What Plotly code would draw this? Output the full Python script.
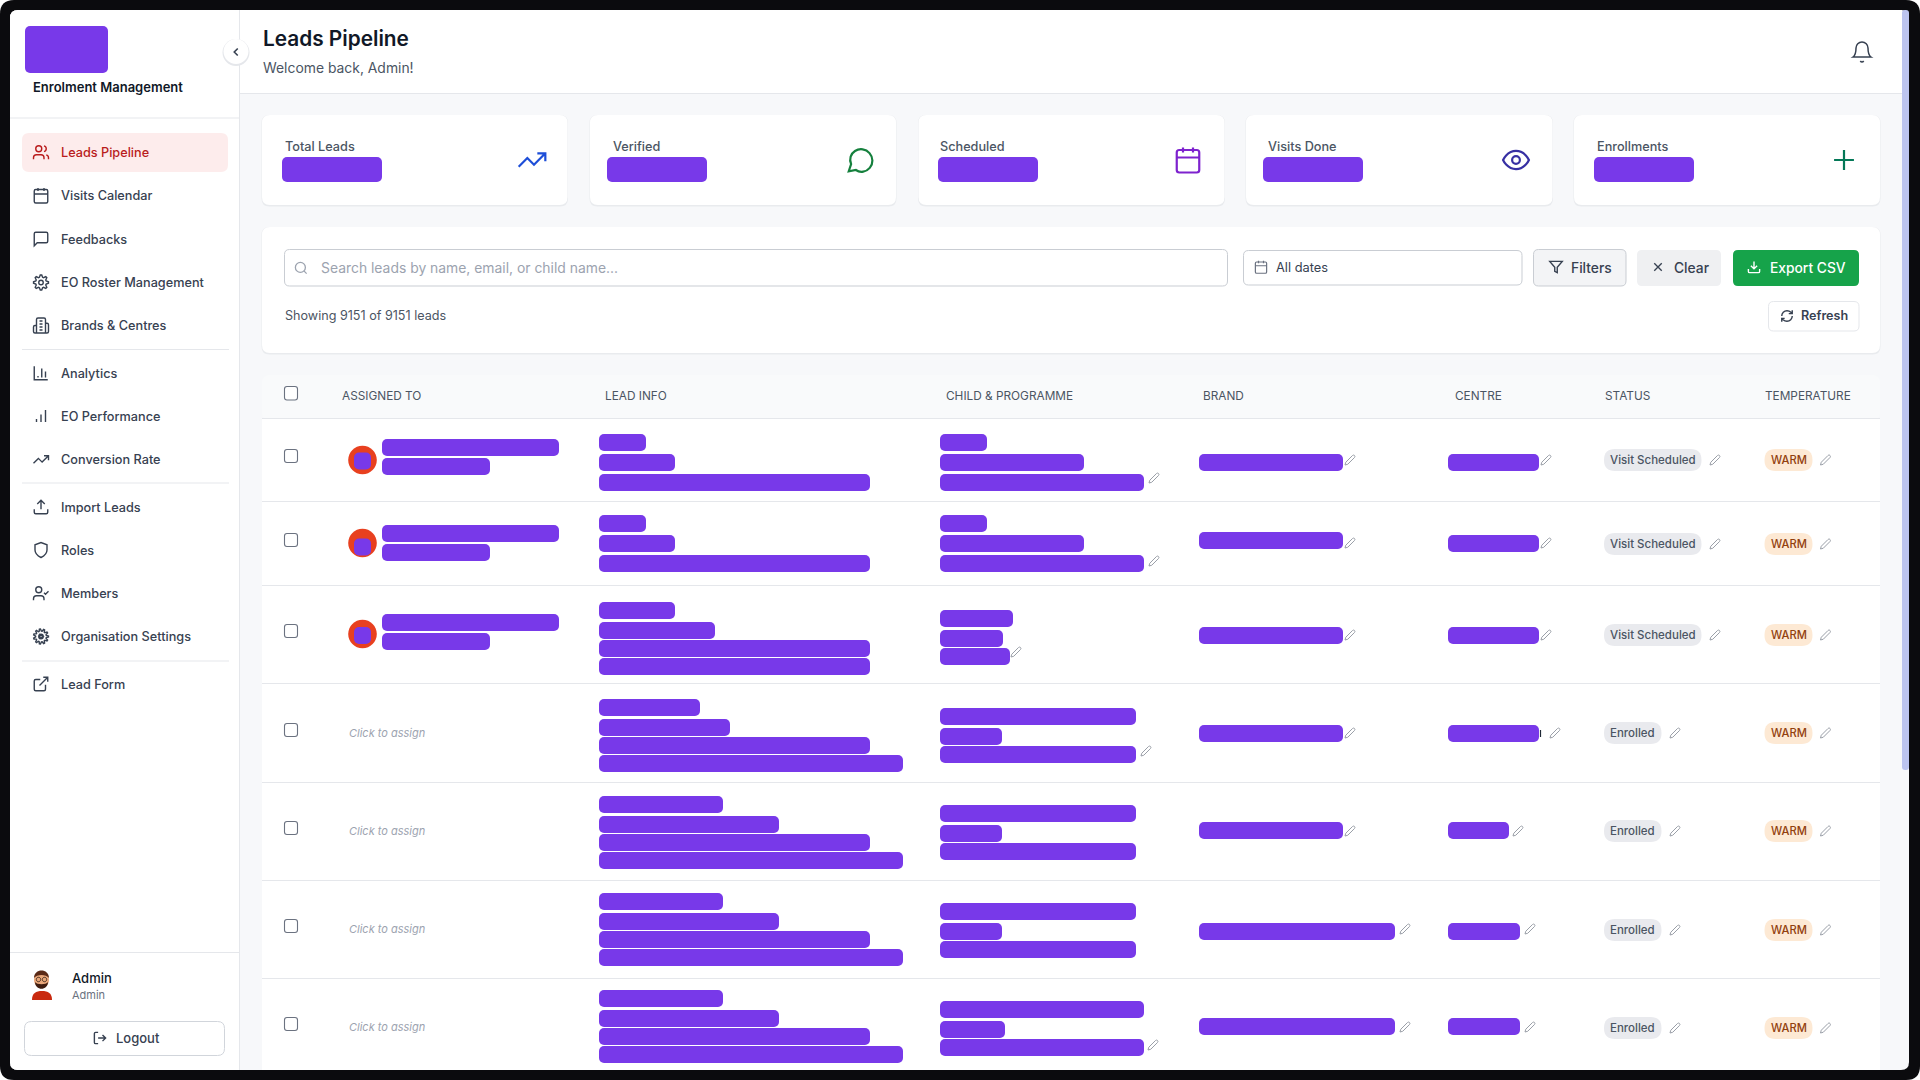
import math
import re
import plotly.graph_objects as go

# ---- text and values ----
app_name = "Enrolment Management"
page_title = "Leads Pipeline"
page_subtitle = "Welcome back, Admin!"

nav_labels = ["Leads Pipeline", "Visits Calendar", "Feedbacks", "EO Roster Management", "Brands & Centres",
              "Analytics", "EO Performance", "Conversion Rate", "Import Leads", "Roles", "Members",
              "Organisation Settings", "Lead Form"]
stat_labels = ["Total Leads", "Verified", "Scheduled", "Visits Done", "Enrollments"]
column_labels = ["ASSIGNED TO", "LEAD INFO", "CHILD & PROGRAMME", "BRAND", "CENTRE", "STATUS", "TEMPERATURE"]
row_status = ["Visit Scheduled", "Visit Scheduled", "Visit Scheduled", "Enrolled", "Enrolled", "Enrolled", "Enrolled"]
row_temperature = ["WARM"] * 7
search_placeholder = "Search leads by name, email, or child name..."
showing_text = "Showing 9151 of 9151 leads"
unassigned_text = "Click to assign"

# lengths of the redaction blocks, per table row
stat_block_len = [100, 100, 100, 100, 100]
assigned_len = [[177, 108], [177, 108], [177, 108]]
lead_len = [[47, 76, 271], [47, 76, 271], [76, 116, 271, 271], [101, 131, 271, 304],
            [124, 180, 271, 304], [124, 180, 271, 304], [124, 180, 271, 304]]
child_len = [[47, 144, 204], [47, 144, 204], [73, 63, 70], [196, 62, 196],
             [196, 62, 196], [196, 62, 196], [204, 65, 204]]
brand_len = [144, 144, 144, 144, 144, 196, 196]
centre_len = [91, 91, 91, 91, 61, 72, 72]

# ---- page geometry ----
PURPLE = "#7839e9"
BG = "#f7f8fa"
LINE = "#e5e7eb"
BLOCK_H = 17

nav_y = [152.5, 195.5, 239, 282.5, 325.5, 373, 416, 459.5, 507, 550, 593.5, 636.5, 684]
nav_dividers = [349.5, 483, 661]
card_x = [(262, 567.5), (590, 896), (918.5, 1224.5), (1246, 1552.5), (1574, 1880)]
stat_label_x = [284, 612, 939.5, 1267.5, 1596]
stat_block_x = [282, 607, 938, 1263, 1594]
stat_icon_x = [532, 860, 1188, 1516, 1844]
stat_icon_size = [32, 30, 30, 31, 34]
stat_icon_color = ["#1d4ed8", "#15803d", "#7e22ce", "#3730a3", "#047857"]
column_x = [341, 604, 945, 1202, 1454, 1604, 1764]
row_lines = [418, 501, 585, 683, 782, 880, 978]
check_y = [456, 540, 631, 730, 828, 926, 1024]
lead_tops = [[434, 454, 474], [515, 535, 555], [602, 622, 640, 658], [699, 719, 737, 755],
             [796, 816, 834, 852], [893, 913, 931, 949], [990, 1010, 1028, 1046]]
child_tops = [[434, 454, 474], [515, 535, 555], [610, 630, 648], [708, 728, 746],
              [805, 825, 843], [903, 923, 941], [1001, 1021, 1039]]
assigned_tops = [[439, 458], [525, 544], [614, 633]]
avatar_y = [460, 543, 634]
avatar_inner_y = [461, 547, 635.5]
brand_tops = [454, 532, 627, 725, 822, 923, 1018]
centre_tops = [454, 535, 627, 725, 822, 923, 1018]
pill_y = [460, 544, 635, 733, 831, 930, 1028]
child_pencil = [(1154, 478), (1154, 561), (1016, 652), (1146, 751), None, None, (1153, 1045)]
brand_pencil_x = [1350, 1350, 1350, 1350, 1350, 1405, 1405]
centre_pencil_x = [1546, 1546, 1546, 1555, 1518, 1530, 1530]
brand_pencil_y = [460, 543, 635, 733, 831, 929, 1027]
assign_y = [733, 831, 929, 1027]

shapes = []
notes = []


def rrect(x0, y0, x1, y1, r):
    return (f"M {x0 + r} {y0} L {x1 - r} {y0} Q {x1} {y0} {x1} {y0 + r} L {x1} {y1 - r} Q {x1} {y1} {x1 - r} {y1} "
            f"L {x0 + r} {y1} Q {x0} {y1} {x0} {y1 - r} L {x0} {y0 + r} Q {x0} {y0} {x0 + r} {y0} Z")


def box(x0, y0, x1, y1, r=0, fill=None, line=None, lw=1):
    shapes.append(dict(type="path", path=rrect(x0, y0, x1, y1, r), fillcolor=fill or "rgba(0,0,0,0)",
                       line=dict(color=line or "rgba(0,0,0,0)", width=lw if line else 0), layer="below"))


def card(x0, y0, x1, y1, r=8):
    box(x0 - 0.5, y0, x1 + 0.5, y1 + 1.5, r, fill="#e9ebee")
    box(x0, y0, x1, y1, r, fill="white")


def hline(x0, x1, y, color=LINE, w=1):
    shapes.append(dict(type="line", x0=x0, x1=x1, y0=y, y1=y, line=dict(color=color, width=w), layer="below"))


def blob(path, color):
    shapes.append(dict(type="path", path=path, fillcolor=color, line_width=0, layer="below"))


def circ(cx, cy, r):
    k = 0.5523 * r
    return (f"M {cx - r} {cy} C {cx - r} {cy - k} {cx - k} {cy - r} {cx} {cy - r} "
            f"C {cx + k} {cy - r} {cx + r} {cy - k} {cx + r} {cy} "
            f"C {cx + r} {cy + k} {cx + k} {cy + r} {cx} {cy + r} "
            f"C {cx - k} {cy + r} {cx - r} {cy + k} {cx - r} {cy} Z")


def gear(teeth):
    pts = []
    for i in range(teeth * 4):
        rad = 10 if i % 4 in (0, 1) else 7.2
        a = 2 * math.pi * (i - 0.5) / (teeth * 4)
        pts.append(f"{12 + rad * math.cos(a):.2f} {12 + rad * math.sin(a):.2f}")
    return "M " + " L ".join(pts) + " Z " + circ(12, 12, 3)


ICONS = {
    "users": circ(9, 7, 4) + " M 2 21 L 2 19 C 2 16.8 3.8 15 6 15 L 12 15 C 14.2 15 16 16.8 16 19 L 16 21 "
             "M 22 21 L 22 19 C 22 17.2 20.8 15.6 19 15.1 M 16 3.1 C 17.8 3.6 19 5.1 19 7 C 19 8.9 17.8 10.4 16 10.9",
    "calendar": rrect(3, 4, 21, 22, 2) + " M 16 2 L 16 6 M 8 2 L 8 6 M 3 10 L 21 10",
    "square_chat": "M 21 15 C 21 16.1 20.1 17 19 17 L 7 17 L 3 21 L 3 5 C 3 3.9 3.9 3 5 3 L 19 3 C 20.1 3 21 3.9 21 5 Z",
    "gear": gear(8),
    "gear2": gear(11) + " M 10.5 9.5 L 15 12 L 10.5 14.5 Z",
    "building": "M 6 22 L 6 4 C 6 2.9 6.9 2 8 2 L 16 2 C 17.1 2 18 2.9 18 4 L 18 22 Z "
                "M 6 12 L 4 12 C 2.9 12 2 12.9 2 14 L 2 20 C 2 21.1 2.9 22 4 22 L 6 22 "
                "M 18 9 L 20 9 C 21.1 9 22 9.9 22 11 L 22 20 C 22 21.1 21.1 22 20 22 L 18 22 "
                "M 10 6 L 14 6 M 10 10 L 14 10 M 10 14 L 14 14 M 10 18 L 14 18",
    "chart": "M 3 3 L 3 21 L 21 21 M 8 18 L 8 16 M 13 18 L 13 6 M 18 18 L 18 10",
    "bars": "M 6 20 L 6 16 M 12 20 L 12 10 M 18 20 L 18 4",
    "trend": "M 22 7 L 13.5 15.5 L 8.5 10.5 L 2 17 M 16 7 L 22 7 L 22 13",
    "upload": "M 21 15 L 21 19 C 21 20.1 20.1 21 19 21 L 5 21 C 3.9 21 3 20.1 3 19 L 3 15 "
              "M 17 8 L 12 3 L 7 8 M 12 3 L 12 15",
    "shield": "M 12 22 C 12 22 20 18 20 12 L 20 5 L 12 2 L 4 5 L 4 12 C 4 18 12 22 12 22 Z",
    "user_check": circ(9, 7, 4) + " M 16 21 L 16 19 C 16 16.8 14.2 15 12 15 L 6 15 C 3.8 15 2 16.8 2 19 L 2 21 "
                                  "M 16 11 L 18 13 L 22 9",
    "external": "M 18 13 L 18 19 C 18 20.1 17.1 21 16 21 L 5 21 C 3.9 21 3 20.1 3 19 L 3 8 C 3 6.9 3.9 6 5 6 L 11 6 "
                "M 15 3 L 21 3 L 21 9 M 10 14 L 21 3",
    "logout": "M 9 21 L 5 21 C 3.9 21 3 20.1 3 19 L 3 5 C 3 3.9 3.9 3 5 3 L 9 3 M 16 17 L 21 12 L 16 7 M 21 12 L 9 12",
    "bell": "M 6 8 C 6 4.7 8.7 2 12 2 C 15.3 2 18 4.7 18 8 C 18 15 21 17 21 17 L 3 17 C 3 17 6 15 6 8 Z "
            "M 10.3 21 C 10.7 21.6 11.3 22 12 22 C 12.7 22 13.3 21.6 13.7 21",
    "chat": "M 3 21 L 4.9 15.3 C 3.2 11.5 4.5 7 8 4.8 C 11.8 2.4 16.7 3.1 19.6 6.5 C 22.6 9.9 22.7 14.9 19.8 18.3 "
            "C 17 21.6 12.3 22.6 8.7 20 Z",
    "eye": "M 2 12 C 2 12 5 5 12 5 C 19 5 22 12 22 12 C 22 12 19 19 12 19 C 5 19 2 12 2 12 Z " + circ(12, 12, 3),
    "plus": "M 5 12 L 19 12 M 12 5 L 12 19",
    "search": circ(11, 11, 8) + " M 21 21 L 16.65 16.65",
    "funnel": "M 22 3 L 2 3 L 10 12.5 L 10 19 L 14 21 L 14 12.5 Z",
    "x": "M 18 6 L 6 18 M 6 6 L 18 18",
    "download": "M 21 15 L 21 19 C 21 20.1 20.1 21 19 21 L 5 21 C 3.9 21 3 20.1 3 19 L 3 15 "
                "M 7 10 L 12 15 L 17 10 M 12 15 L 12 3",
    "refresh": "M 21 2 L 21 8 L 15 8 M 3 12 C 3 7 7 3 12 3 C 14.5 3 16.9 4 18.7 5.7 L 21 8 "
               "M 21 12 C 21 17 17 21 12 21 C 9.5 21 7.1 20 5.3 18.3 L 3 16 M 8 16 L 3 16 L 3 22",
    "pencil": "M 17 3 C 18.2 1.8 20.2 1.8 21 3 C 22.2 4.2 22.2 5.8 21 7 L 7.5 20.5 L 2 22 L 3.5 16.5 Z",
    "chevron": "M 15 18 L 9 12 L 15 6",
}
nav_icons = ["users", "calendar", "square_chat", "gear", "building", "chart", "bars", "trend", "upload",
             "shield", "user_check", "gear2", "external"]
stat_icons = ["trend", "chat", "calendar", "eye", "plus"]


def icon(name, cx, cy, size, color, lw=1.5):
    s = size / 24

    def move(m):
        return f"{cx + (float(m.group(1)) - 12) * s:.2f} {cy + (float(m.group(2)) - 12) * s:.2f}"
    path = re.sub(r"(-?[\d.]+) (-?[\d.]+)", move, ICONS[name])
    shapes.append(dict(type="path", path=path, line=dict(color=color, width=lw), layer="below"))


def pencil(x, y):
    icon("pencil", x, y, 12, "#9a9fa8", 1)


def label(x, y, text, size, color, weight=400, anchor="left", style="normal"):
    if anchor == "left":
        x -= 1.5
    notes.append(dict(x=x, y=y, text=text, showarrow=False, xanchor=anchor, yanchor="middle",
                      font=dict(family="Inter", size=size, color=color, weight=weight, style=style)))


# blocks go into one bar trace, so they pick up the axes like any other bar
bar_base, bar_len, bar_mid, bar_h = [], [], [], []


def block(x, top, length, h=BLOCK_H):
    bar_base.append(x)
    bar_len.append(length)
    bar_mid.append(top + h / 2)
    bar_h.append(h)


# ---- frame ----
box(0, 0, 1920, 1080, 14, fill="#0b0b0e")
box(10, 10, 1909, 1070, 8, fill=BG)

# ---- sidebar ----
box(10, 10, 239, 1070, 8, fill="white")
shapes.append(dict(type="rect", x0=200, x1=239, y0=10, y1=1070, fillcolor="white", line_width=0, layer="below"))
shapes.append(dict(type="line", x0=239.5, x1=239.5, y0=10, y1=1070, line=dict(color=LINE, width=1), layer="below"))
hline(10, 239, 118)
block(25, 26, 83, 47)
label(32, 86.5, app_name, 13, "#111827", 600)
box(22, 133, 228, 172, 7, fill="#fdecec")
for i, name in enumerate(nav_labels):
    active = i == 0
    label(60.5, nav_y[i], name, 12.7, "#b91c1c" if active else "#374151", 500)
    icon(nav_icons[i], 41, nav_y[i], 18, "#b91c1c" if active else "#374151", 1.4)
for y in nav_dividers:
    hline(22, 229, y)
hline(10, 239, 952.5)
label(71.5, 977.5, "Admin", 13, "#111827", 500)
label(71.5, 994.5, "Admin", 11, "#6b7280")
box(24.5, 1021.5, 224.5, 1055.5, 7, fill="white", line="#d1d5db")
icon("logout", 100, 1038, 15, "#374151", 1.4)
label(115, 1038, "Logout", 13, "#374151", 500)

# small avatar picture
blob("M 32 1000 C 32 993 36 991 42 991 C 48 991 52 993 52 1000 Z", "#c92a0f")
blob(circ(41.5, 980, 7.5), "#e9a77a")
blob("M 34 978 C 34 968 49 968 49 978 C 46 974 37 974 34 978 Z", "#5b2a16")
blob("M 35 982 C 37 985 46 985 48 982 C 48 991 35 991 35 982 Z", "#3f1d10")
shapes.append(dict(type="path", path=circ(38.5, 979.5, 2.2) + " " + circ(44.5, 979.5, 2.2),
                   line=dict(color="#2b1a12", width=0.8), layer="below"))

# ---- header ----
shapes.append(dict(type="rect", x0=240, x1=1902, y0=10, y1=93, fillcolor="white", line_width=0, layer="below"))
hline(240, 1902, 93.5)
label(262, 38.5, page_title, 20.8, "#111827", 600)
label(262, 68, page_subtitle, 13.9, "#4b5563")
icon("bell", 1862, 52, 24, "#374151", 1.5)
blob(circ(236, 52.5, 13.5), "#e5e7eb")
blob(circ(236, 51.5, 12.5), "white")
icon("chevron", 236, 52, 14, "#374151", 1.6)

# ---- stat cards ----
for i, name in enumerate(stat_labels):
    card(card_x[i][0], 115, card_x[i][1], 205)
    label(stat_label_x[i], 146, name, 12.7, "#4b5563", 500)
    block(stat_block_x[i], 157, stat_block_len[i], 25)
    icon(stat_icons[i], stat_icon_x[i], 160, stat_icon_size[i], stat_icon_color[i], 2.2)

# ---- filter card ----
card(262, 227, 1880, 353)
box(284.5, 249.5, 1227.5, 286, 5, fill="white", line="#c9cdd3")
icon("search", 301, 268, 15, "#9ca3af", 1.3)
label(320.5, 268, search_placeholder, 13.9, "#9ca3af")
box(1243.5, 250.5, 1522, 285, 5, fill="white", line="#c9cdd3")
icon("calendar", 1261, 267, 15, "#6b7280", 1.2)
label(1275.5, 267, "All dates", 12.8, "#374151")
box(1533.5, 249.5, 1626, 286, 5, fill="#f3f4f6", line="#c9cdd3")
icon("funnel", 1556, 267, 15, "#374151", 1.4)
label(1570.5, 268, "Filters", 13.8, "#374151", 500)
box(1637, 250, 1721, 286, 5, fill="#eff0f2")
icon("x", 1658, 267, 15, "#374151", 1.4)
label(1673, 268, "Clear", 13.8, "#374151", 500)
box(1733, 250, 1859, 286, 5, fill="#16a34a")
icon("download", 1754, 267, 15, "white", 1.4)
label(1769, 268, "Export CSV", 13.8, "white", 500)
box(1768.5, 301.5, 1859, 331, 5, fill="white", line=LINE)
icon("refresh", 1787, 316, 14, "#374151", 1.4)
label(1800, 315.5, "Refresh", 12.6, "#374151", 600)
label(284, 315, showing_text, 12.6, "#4b5563")

# ---- table ----
box(262, 375, 1880, 420, 8, fill="#f9fafb")
shapes.append(dict(type="rect", x0=262, x1=1880, y0=418, y1=1070, fillcolor="white", line_width=0, layer="below"))
hline(262, 1880, 418.5)
for i, name in enumerate(column_labels):
    label(column_x[i] + 0.5, 396, name, 11.8, "#4b5563", 400)
box(284.5, 386.5, 297.5, 400, 2.5, fill="white", line="#6b7280", lw=1.1)

for r in range(7):
    y = row_lines[r]
    if r > 0:
        hline(262, 1880, y + 0.5)
    box(284.5, check_y[r] - 6.5, 297.5, check_y[r] + 6.5, 2.5, fill="white", line="#6b7280", lw=1.1)

    if r < 3:
        blob(circ(362.5, avatar_y[r], 14.3), "#e8401f")
        block(354, avatar_inner_y[r] - 8.5, 17, 17)
        for top, length in zip(assigned_tops[r], assigned_len[r]):
            block(382, top, length)
    else:
        label(348, assign_y[r - 3], unassigned_text, 11, "#9ca3af", style="italic")

    for top, length in zip(lead_tops[r], lead_len[r]):
        block(599, top, length)
    for top, length in zip(child_tops[r], child_len[r]):
        block(940, top, length)
    block(1199, brand_tops[r], brand_len[r])
    block(1448, centre_tops[r], centre_len[r])

    if child_pencil[r]:
        pencil(child_pencil[r][0], child_pencil[r][1])
    pencil(brand_pencil_x[r], brand_pencil_y[r])
    pencil(centre_pencil_x[r], brand_pencil_y[r])

    py = pill_y[r]
    pill_end = 1701.5 if row_status[r] == "Visit Scheduled" else 1661.5
    box(1604, py - 11, pill_end, py + 11, 11, fill="#e9eaee")
    label((1604 + pill_end) / 2, py, row_status[r], 11.5, "#4b5563", 500, anchor="center")
    pencil(pill_end + 13.5, py)
    box(1764.5, py - 11, 1812.5, py + 11, 11, fill="#fde9d4")
    label(1788.5, py, row_temperature[r], 11.2, "#92400e", 500, anchor="center")
    pencil(1825.5, py)

# leftover glyph edge that pokes out beside the fourth centre block
shapes.append(dict(type="line", x0=1540.5, x1=1540.5, y0=730, y1=737, line=dict(color="#1f2937", width=1.2), layer="below"))

# scrollbar
box(1902, 10, 1909, 770, 3, fill="#bcc4ef")

fig = go.Figure(go.Bar(orientation="h", base=bar_base, x=bar_len, y=bar_mid, width=bar_h,
                       marker=dict(color=PURPLE, line_width=0), hoverinfo="skip"))
fig.update_layout(
    width=1920, height=1080, margin=dict(l=0, r=0, t=0, b=0), showlegend=False,
    paper_bgcolor="white", plot_bgcolor="rgba(0,0,0,0)", barcornerradius=5,
    xaxis=dict(range=[0, 1920], visible=False, fixedrange=True),
    yaxis=dict(range=[1080, 0], visible=False, fixedrange=True),
    shapes=shapes, annotations=notes,
)

fig.write_html("out.html", config=dict(displayModeBar=False),
               post_script="document.body.style.margin='0';document.body.style.overflow='hidden';")
